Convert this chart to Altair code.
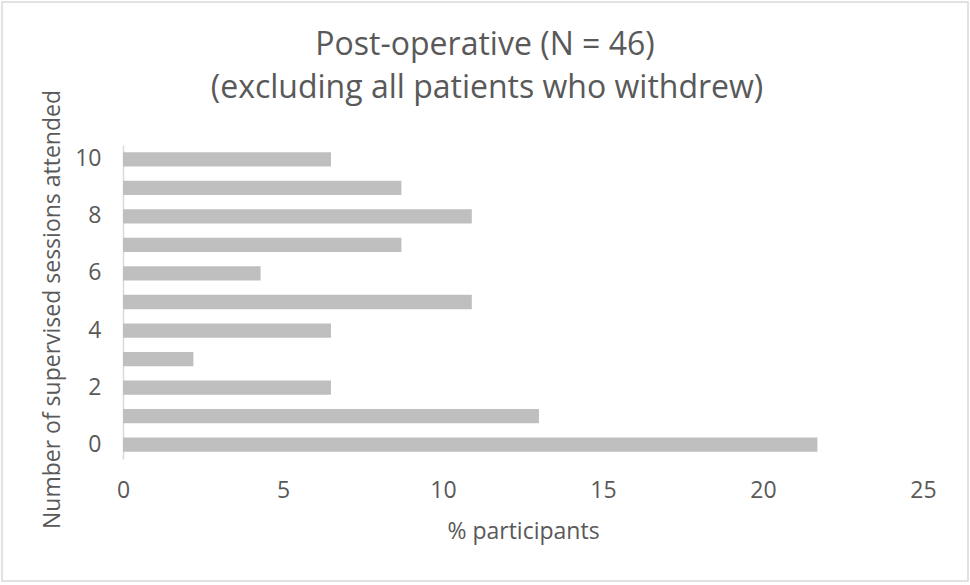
import altair as alt
import pandas as pd

sessions = [0, 1, 2, 3, 4, 5, 6, 7, 8, 9, 10]
pct_participants = [21.7, 13.0, 6.5, 2.2, 6.5, 10.9, 4.3, 8.7, 10.9, 8.7, 6.5]
x_ticks = [0, 5, 10, 15, 20, 25]
y_label_values = [0, 2, 4, 6, 8, 10]

title_line1 = "Post-operative (N = 46)"
title_line2 = "(excluding all patients who withdrew)"
x_title = "% participants"
y_title = "Number of supervised sessions attended"

df = pd.DataFrame({"sessions": sessions, "pct": pct_participants})
one = pd.DataFrame({"a": [0]})

FONT = "Open Sans"
TXT = "#595959"
FS = 23

bars = alt.Chart(df).mark_bar(color="#bfbfbf").encode(
    x=alt.X(
        "pct:Q",
        scale=alt.Scale(domain=[0, 25], nice=False, zero=True),
        axis=alt.Axis(
            values=x_ticks, title=x_title, grid=False, domain=False, ticks=False,
            labelFlush=False,
            labelPadding=20, titlePadding=18, labelFontSize=FS, titleFontSize=FS,
            labelColor=TXT, titleColor=TXT, labelFont=FONT, titleFont=FONT,
            titleFontWeight="normal",
        ),
    ),
    y=alt.Y(
        "sessions:O",
        sort="descending",
        scale=alt.Scale(paddingInner=0.5, paddingOuter=0.25),
        axis=alt.Axis(
            values=y_label_values, title=y_title, grid=False, ticks=False,
            domain=True, domainColor="#d9d9d9", domainWidth=1.5,
            labelPadding=22, titlePadding=10, labelFontSize=FS, titleFontSize=FS,
            labelColor=TXT, titleColor=TXT, labelFont=FONT, titleFont=FONT,
            titleFontWeight="normal", labelAngle=0, titleY=164,
        ),
    ),
)

frame = alt.Chart(one).mark_rect(
    fill=None, stroke="#d9d9d9", strokeWidth=1.5, clip=False
).encode(
    x=alt.value(-121), x2=alt.value(845), y=alt.value(-143), y2=alt.value(436)
)

t1 = alt.Chart(one).mark_text(
    text=title_line1, font=FONT, fontSize=32, color=TXT, align="center",
    baseline="alphabetic",
).encode(x=alt.value(362), y=alt.value(-90))

t2 = alt.Chart(one).mark_text(
    text=title_line2, font=FONT, fontSize=32, color=TXT, align="center",
    baseline="alphabetic",
).encode(x=alt.value(364), y=alt.value(-47))

chart = alt.layer(frame, t1, t2, bars).properties(
    width=800,
    height=314,
    autosize=alt.AutoSizeParams(type="none"),
    padding={"left": 123, "top": 145, "right": 47, "bottom": 126},
).configure(background="white").configure_view(stroke=None)

chart.save("out.html", embed_options={"renderer": "svg", "actions": False})
